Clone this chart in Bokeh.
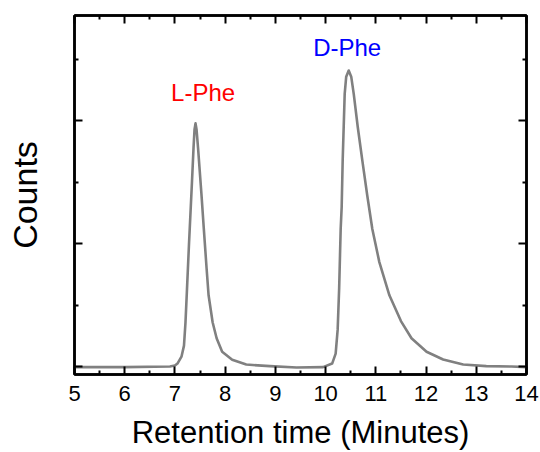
from bokeh.plotting import figure
from bokeh.models import (LinearAxis, FixedTicker, CustomJSTickFormatter,
                          ColumnDataSource, Range1d)
from bokeh.core.properties import value
from bokeh.embed import file_html
from bokeh.resources import INLINE

# ---- data ----
retention_time = [5.0, 6.0, 6.9, 7.0, 7.05, 7.13, 7.18, 7.21, 7.24, 7.28,
                  7.34, 7.37, 7.39, 7.41, 7.43, 7.46, 7.53, 7.575, 7.63, 7.67,
                  7.75, 7.83, 7.94, 8.14, 8.42, 8.89, 9.42, 9.95, 10.13, 10.2,
                  10.24, 10.27, 10.3, 10.32, 10.34, 10.38, 10.41, 10.46, 10.51,
                  10.56, 10.64, 10.73, 10.83, 10.93, 11.07, 11.27, 11.5, 11.71,
                  12.01, 12.34, 12.74, 13.2, 13.7, 14.0]
counts = [-0.005, -0.005, 0.0, 0.008, 0.024, 0.08, 0.17, 0.36, 0.63, 1.0,
          1.51, 1.78, 1.93, 1.98, 1.93, 1.78, 1.39, 1.12, 0.8, 0.58,
          0.36, 0.23, 0.12, 0.055, 0.016, 0.003, -0.008, -0.005, 0.024, 0.105,
          0.3, 0.64, 1.12, 1.3, 1.68, 2.22, 2.36, 2.41, 2.36,
          2.22, 1.95, 1.68, 1.39, 1.12, 0.85, 0.58, 0.37, 0.23,
          0.12, 0.057, 0.016, 0.003, 0.0, -0.005]

peak_names = ["L-Phe", "D-Phe"]
peak_label_x = [7.56, 10.43]
peak_label_y = [2.23, 2.595]
peak_colors = ["#ff0000", "#0000ff"]

x_ticks = [5, 6, 7, 8, 9, 10, 11, 12, 13, 14]
x_minor = [5.5, 6.5, 7.5, 8.5, 9.5, 10.5, 11.5, 12.5, 13.5]
y_ticks = [0, 1, 2]
y_minor = [0.5, 1.5, 2.5]

x_title = "Retention time (Minutes)"
y_title = "Counts"

FONT = "Liberation Sans"

p = figure(width=540, height=452, output_backend="svg", toolbar_location=None,
           x_range=Range1d(5, 14), y_range=Range1d(-0.065, 2.858),
           min_border_left=74, min_border_right=14, min_border_top=15,
           min_border_bottom=76)
p.xgrid.visible = False
p.ygrid.visible = False
p.outline_line_color = "black"
p.outline_line_width = 2.5


def style(ax):
    ax.axis_line_width = 2.5
    ax.axis_line_color = "black"
    ax.major_tick_in = 8
    ax.major_tick_out = 0
    ax.minor_tick_in = 4
    ax.minor_tick_out = 0
    ax.major_tick_line_width = 2
    ax.minor_tick_line_width = 2
    ax.major_tick_line_color = "black"
    ax.minor_tick_line_color = "black"


xa = p.xaxis[0]
xa.ticker = FixedTicker(ticks=x_ticks, minor_ticks=x_minor)
xa.major_label_overrides = {t: str(t) for t in x_ticks}
style(xa)
xa.major_label_text_font = FONT
xa.major_label_text_font_size = "22px"
xa.major_label_text_color = "black"
xa.major_label_standoff = 11
xa.axis_label = x_title
xa.axis_label_text_font = FONT
xa.axis_label_text_font_size = "31px"
xa.axis_label_text_font_style = "normal"
xa.axis_label_text_color = "black"
xa.axis_label_standoff = 11

ya = p.yaxis[0]
ya.ticker = FixedTicker(ticks=y_ticks, minor_ticks=y_minor)
ya.formatter = CustomJSTickFormatter(code="return ''")
style(ya)
ya.major_label_standoff = 0
ya.axis_label = y_title
ya.axis_label_text_font = FONT
ya.axis_label_text_font_size = "34px"
ya.axis_label_text_font_style = "normal"
ya.axis_label_text_color = "black"
ya.axis_label_standoff = 31

top = LinearAxis(ticker=FixedTicker(ticks=x_ticks, minor_ticks=x_minor),
                 formatter=CustomJSTickFormatter(code="return ''"))
style(top)
top.major_label_standoff = 0
top.major_label_text_font_size = "1px"
p.add_layout(top, "above")

right = LinearAxis(ticker=FixedTicker(ticks=y_ticks, minor_ticks=y_minor),
                   formatter=CustomJSTickFormatter(code="return ''"))
style(right)
right.major_label_standoff = 0
right.major_label_text_font_size = "1px"
p.add_layout(right, "right")

p.line(retention_time, counts, line_color="#808080", line_width=2.6,
       line_join="round")

src = ColumnDataSource(dict(x=peak_label_x, y=peak_label_y, text=peak_names,
                            color=peak_colors))
p.text(x="x", y="y", text="text", text_color="color", source=src,
       text_font=value(FONT), text_font_size="24px", text_align="center",
       text_baseline="alphabetic")

open("out.html", "w").write(file_html(p, INLINE))
